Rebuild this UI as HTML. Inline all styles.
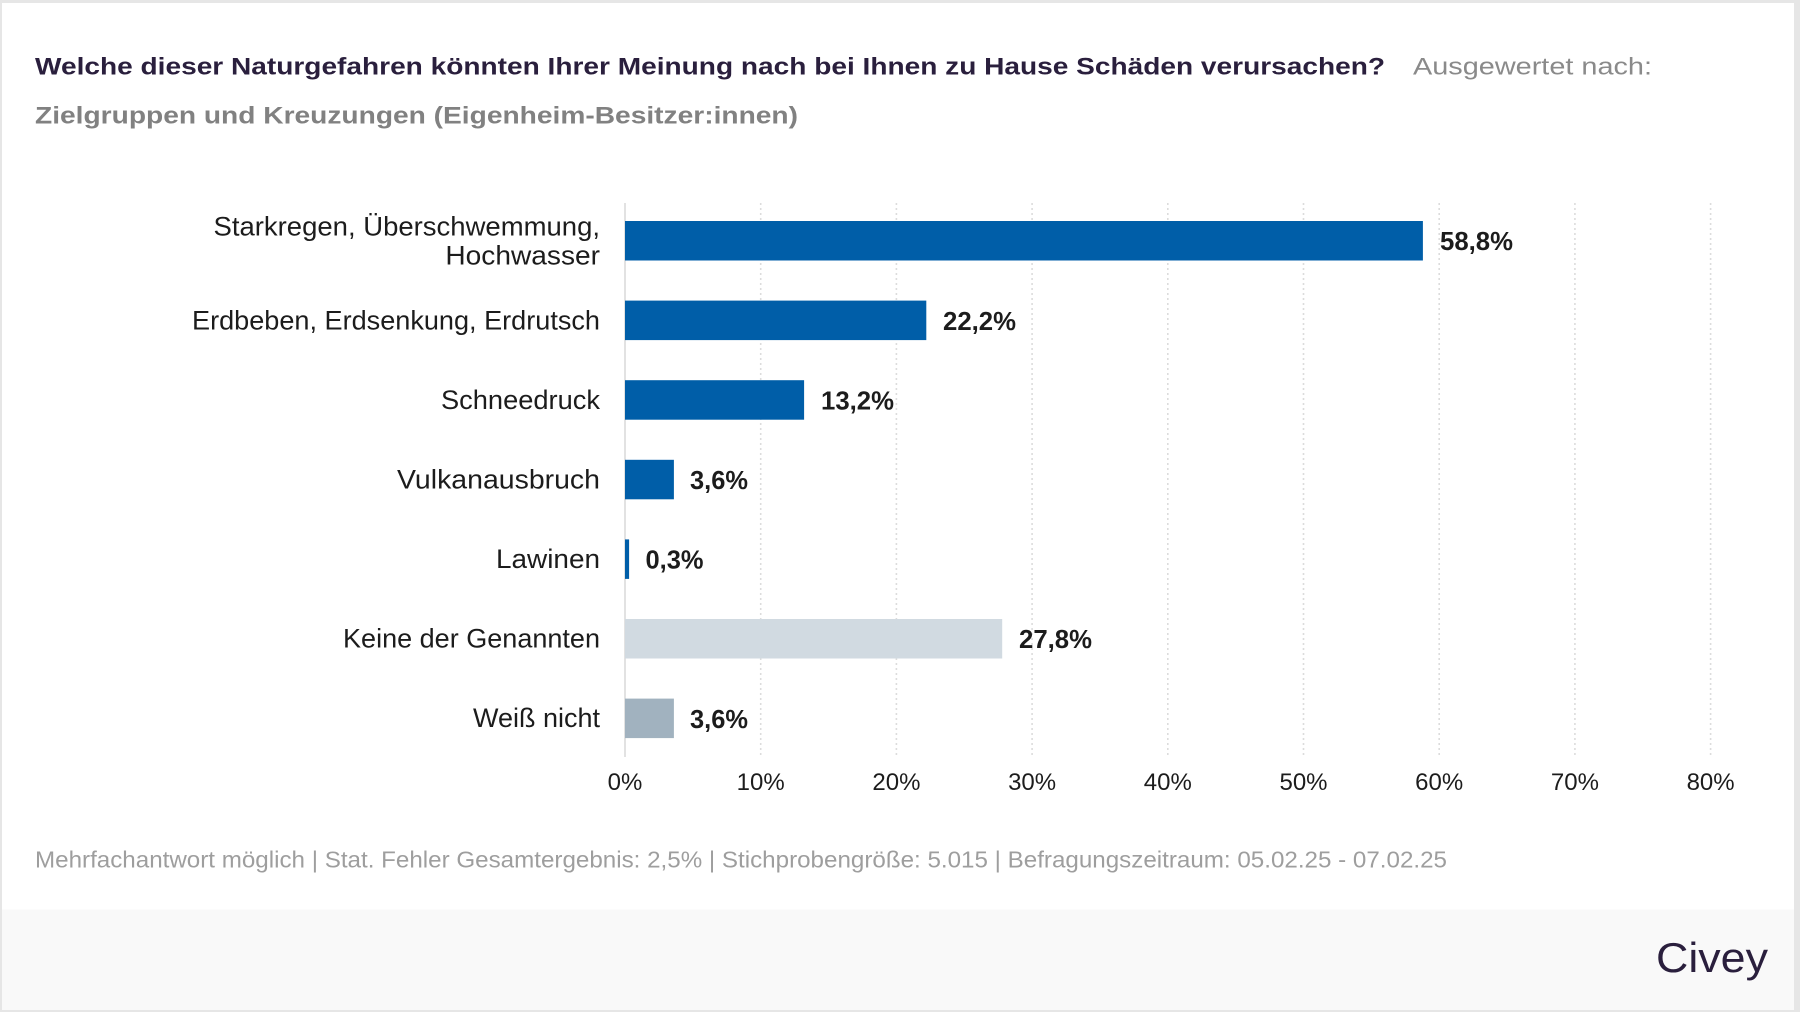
<!DOCTYPE html>
<html>
<head>
<meta charset="utf-8">
<style>
  html,body{margin:0;padding:0;background:#e6e6e6;}
  svg{display:block;}
</style>
</head>
<body>
<svg width="1800" height="1012" viewBox="0 0 1800 1012" xmlns="http://www.w3.org/2000/svg" font-family="'Liberation Sans', Arial, sans-serif">
  <!-- outer frame -->
  <rect x="0" y="0" width="1800" height="1012" fill="#e6e6e6"/>
  <rect x="2" y="3" width="1792" height="1007" fill="#ffffff"/>
  <!-- footer band -->
  <rect x="2" y="909.5" width="1792" height="100.5" fill="#f9f9f9"/>

  <!-- title -->
  <text x="35" y="74.5" font-size="24" font-weight="bold" fill="#2a1f3d" textLength="1350" lengthAdjust="spacingAndGlyphs">Welche dieser Naturgefahren könnten Ihrer Meinung nach bei Ihnen zu Hause Schäden verursachen?</text>
  <text x="1413" y="74.5" font-size="24" fill="#8a8a8a" textLength="239" lengthAdjust="spacingAndGlyphs">Ausgewertet nach:</text>
  <text x="35" y="123.5" font-size="24" font-weight="bold" fill="#818181" textLength="763" lengthAdjust="spacingAndGlyphs">Zielgruppen und Kreuzungen (Eigenheim-Besitzer:innen)</text>

  <!-- gridlines -->
  <g stroke="#dcdcdc" stroke-width="1.6" stroke-dasharray="2,3">
    <line x1="760.7" y1="203" x2="760.7" y2="757"/>
    <line x1="896.4" y1="203" x2="896.4" y2="757"/>
    <line x1="1032.1" y1="203" x2="1032.1" y2="757"/>
    <line x1="1167.8" y1="203" x2="1167.8" y2="757"/>
    <line x1="1303.5" y1="203" x2="1303.5" y2="757"/>
    <line x1="1439.2" y1="203" x2="1439.2" y2="757"/>
    <line x1="1574.9" y1="203" x2="1574.9" y2="757"/>
    <line x1="1710.6" y1="203" x2="1710.6" y2="757"/>
  </g>
  <!-- axis line -->
  <line x1="625" y1="203" x2="625" y2="757" stroke="#e2e2e2" stroke-width="2"/>

  <!-- bars -->
  <rect x="625" y="221" width="797.9" height="39.5" fill="#005ea8"/>
  <rect x="625" y="300.6" width="301.3" height="39.5" fill="#005ea8"/>
  <rect x="625" y="380.2" width="179.1" height="39.5" fill="#005ea8"/>
  <rect x="625" y="459.8" width="48.9" height="39.5" fill="#005ea8"/>
  <rect x="625" y="539.4" width="4.1" height="39.5" fill="#005ea8"/>
  <rect x="625" y="619" width="377.2" height="39.5" fill="#d1dae1"/>
  <rect x="625" y="698.6" width="48.9" height="39.5" fill="#a1b2bf"/>

  <!-- category labels -->
  <g font-size="27" fill="#1c1c1c" text-anchor="end">
    <text x="600" y="235.5" textLength="386.5" lengthAdjust="spacingAndGlyphs">Starkregen, Überschwemmung,</text>
    <text x="600" y="264.5" textLength="154.6" lengthAdjust="spacingAndGlyphs">Hochwasser</text>
    <text x="600" y="329.5" textLength="408" lengthAdjust="spacingAndGlyphs">Erdbeben, Erdsenkung, Erdrutsch</text>
    <text x="600" y="409" textLength="159" lengthAdjust="spacingAndGlyphs">Schneedruck</text>
    <text x="600" y="488.5" textLength="203" lengthAdjust="spacingAndGlyphs">Vulkanausbruch</text>
    <text x="600" y="568" textLength="104" lengthAdjust="spacingAndGlyphs">Lawinen</text>
    <text x="600" y="647.5" textLength="257" lengthAdjust="spacingAndGlyphs">Keine der Genannten</text>
    <text x="600" y="727" textLength="127" lengthAdjust="spacingAndGlyphs">Weiß nicht</text>
  </g>

  <!-- value labels -->
  <g font-size="26" font-weight="bold" fill="#1c1c1c">
    <text x="1440" y="250.2" textLength="73" lengthAdjust="spacingAndGlyphs">58,8%</text>
    <text x="943" y="329.8" textLength="73" lengthAdjust="spacingAndGlyphs">22,2%</text>
    <text x="821" y="409.4" textLength="73" lengthAdjust="spacingAndGlyphs">13,2%</text>
    <text x="690" y="489" textLength="58" lengthAdjust="spacingAndGlyphs">3,6%</text>
    <text x="645.5" y="568.6" textLength="58" lengthAdjust="spacingAndGlyphs">0,3%</text>
    <text x="1019" y="648.2" textLength="73" lengthAdjust="spacingAndGlyphs">27,8%</text>
    <text x="690" y="727.8" textLength="58" lengthAdjust="spacingAndGlyphs">3,6%</text>
  </g>

  <!-- tick labels -->
  <g font-size="24" fill="#1c1c1c" text-anchor="middle">
    <text x="625" y="790">0%</text>
    <text x="760.7" y="790">10%</text>
    <text x="896.4" y="790">20%</text>
    <text x="1032.1" y="790">30%</text>
    <text x="1167.8" y="790">40%</text>
    <text x="1303.5" y="790">50%</text>
    <text x="1439.2" y="790">60%</text>
    <text x="1574.9" y="790">70%</text>
    <text x="1710.6" y="790">80%</text>
  </g>

  <!-- footnote -->
  <text x="35" y="867.3" font-size="23" fill="#9e9e9e" textLength="1412" lengthAdjust="spacingAndGlyphs">Mehrfachantwort möglich | Stat. Fehler Gesamtergebnis: 2,5% | Stichprobengröße: 5.015 | Befragungszeitraum: 05.02.25 - 07.02.25</text>

  <!-- logo -->
  <text x="1656" y="972" font-size="42" fill="#2a1f3d" textLength="112" lengthAdjust="spacingAndGlyphs">Civey</text>
</svg>
</body>
</html>
